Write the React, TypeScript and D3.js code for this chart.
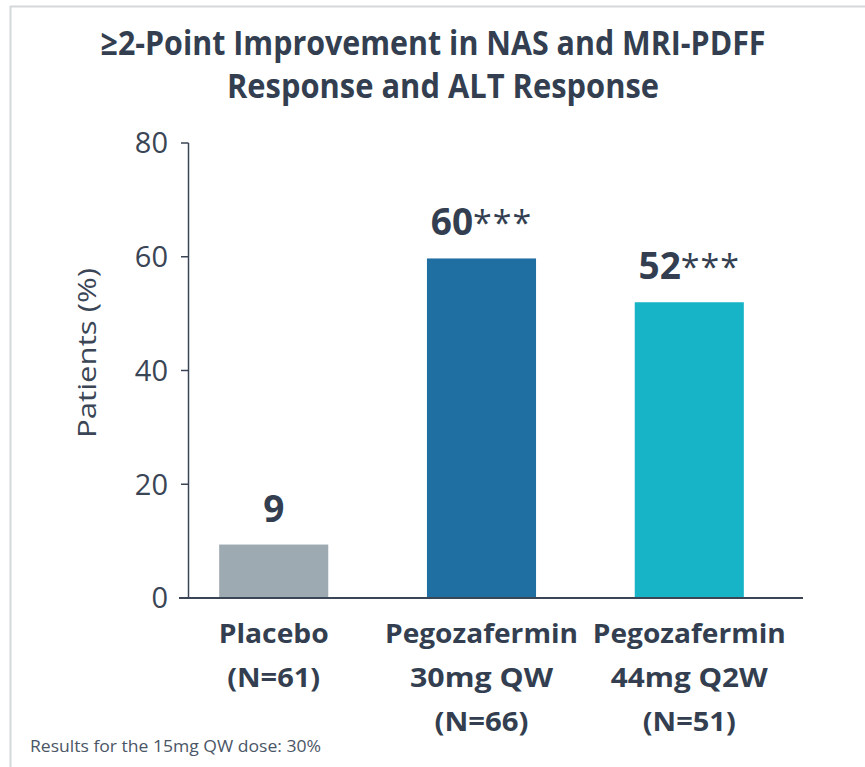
import React from "react";
import * as d3 from "d3";

const categories = ["Placebo", "Pegozafermin 30mg QW", "Pegozafermin 44mg Q2W"];
const categoryLines = [["Placebo", "(N=61)"], ["Pegozafermin", "30mg QW", "(N=66)"], ["Pegozafermin", "44mg Q2W", "(N=51)"]];
const values = [9.4, 59.7, 52.0];
const valueLabels = ["9", "60", "52"];
const significance = ["", "***", "***"];
const barColors = ["#9eaab1", "#1f6fa3", "#17b4c7"];
const yTicks = [0, 20, 40, 60, 80];
const titleLines = ["≥2-Point Improvement in NAS and MRI-PDFF", "Response and ALT Response"];
const yLabel = "Patients (%)";
const footnote = "Results for the 15mg QW dose: 30%";

const TEXT = "#333f50";
const AXIS = "#3a4555";
const FONT = "'Open Sans', 'Noto Sans', sans-serif";

const titleWidths = [665, 432];
const titleCenters = [433, 443];
const catWidths = [[110, 93], [193, 143, 94], [193, 157, 93]];

export default function App() {
  const y = d3.scaleLinear().domain([0, 80]).range([598, 143]);
  const x = d3.scaleBand<string>().domain(categories).range([188, 775]).paddingInner(0.475).paddingOuter(0.15);

  return (
    <svg width={865} height={767} style={{ position: "absolute", left: 0, top: 0, background: "#fff" }}>
      {/* frame */}
      <line x1={10.5} x2={10.5} y1={6} y2={767} stroke="#d3d8db" strokeWidth={2} />
      <line x1={10} x2={865} y1={6.5} y2={6.5} stroke="#d3d8db" strokeWidth={2} />

      {/* title */}
      {titleLines.map((t, i) => (
        <text key={i} x={titleCenters[i]} y={55 + i * 43} textAnchor="middle" fontFamily={FONT} fontWeight="bold" fontSize={34}
          fill={TEXT} textLength={titleWidths[i]} lengthAdjust="spacingAndGlyphs">{t}</text>
      ))}

      {/* bars */}
      {categories.map((c, i) => (
        <rect key={c} x={x(c)} y={y(values[i])} width={x.bandwidth()} height={y(0) - y(values[i])} fill={barColors[i]} />
      ))}

      {/* value labels */}
      {categories.map((c, i) => (
        <text key={c} x={(x(c) as number) + x.bandwidth() / 2} y={y(values[i]) - 23} textAnchor="middle"
          fontFamily={FONT} fill={TEXT} fontSize={37}>
          <tspan fontWeight="bold">{valueLabels[i]}</tspan>
          {significance[i] && <tspan fontWeight="normal" fontSize={34} letterSpacing={1}>{significance[i]}</tspan>}
        </text>
      ))}

      {/* y axis */}
      <line x1={188.5} x2={188.5} y1={y(80)} y2={y(0)} stroke={AXIS} strokeWidth={1.5} />
      {yTicks.map((t) => (
        <g key={t}>
          <line x1={181} x2={188.5} y1={y(t)} y2={y(t)} stroke={AXIS} strokeWidth={1.5} />
          <text x={168} y={y(t)} dy="0.36em" textAnchor="end" fontFamily={FONT} fontSize={29} fill={AXIS}>{t}</text>
        </g>
      ))}
      {/* x baseline */}
      <line x1={179} x2={803} y1={y(0)} y2={y(0)} stroke={AXIS} strokeWidth={2} />

      {/* y label */}
      <text transform={`translate(96,${353}) rotate(-90)`} textAnchor="middle" fontFamily={FONT} fontSize={26}
        fill={AXIS} textLength={170} lengthAdjust="spacingAndGlyphs">{yLabel}</text>

      {/* category labels */}
      {categories.map((c, i) => (
        <g key={c}>
          {categoryLines[i].map((line, j) => (
            <text key={j} x={(x(c) as number) + x.bandwidth() / 2} y={643 + j * 44} textAnchor="middle"
              fontFamily={FONT} fontWeight="bold" fontSize={27} fill={TEXT}
              textLength={catWidths[i][j]} lengthAdjust="spacingAndGlyphs">{line}</text>
          ))}
        </g>
      ))}

      {/* footnote */}
      <text x={30} y={752} fontFamily={FONT} fontSize={16} fill="#4a5666" textLength={291} lengthAdjust="spacingAndGlyphs">{footnote}</text>
    </svg>
  );
}
